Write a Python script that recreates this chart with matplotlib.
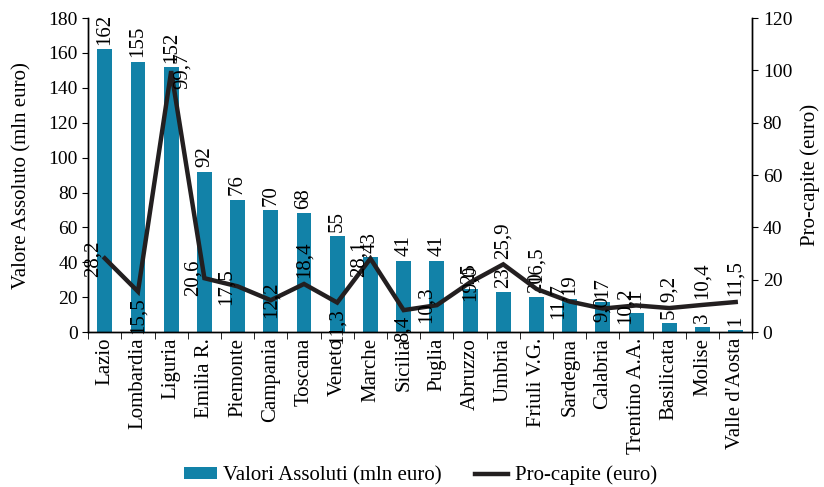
import numpy as np
import matplotlib.pyplot as plt
from matplotlib.ticker import MultipleLocator

plt.rcParams['font.family'] = ['Liberation Serif', 'DejaVu Serif']

regioni = ['Lazio', 'Lombardia', 'Liguria', 'Emilia R.', 'Piemonte', 'Campania',
           'Toscana', 'Veneto', 'Marche', 'Sicilia', 'Puglia', 'Abruzzo', 'Umbria',
           'Friuli V.G.', 'Sardegna', 'Calabria', 'Trentino A.A.', 'Basilicata',
           'Molise', "Valle d'Aosta"]
valori_assoluti = [162, 155, 152, 92, 76, 70, 68, 55, 43, 41, 41, 25, 23, 20, 19, 17,
                   11, 5, 3, 1]
pro_capite = [28.2, 15.5, 99.7, 20.6, 17.5, 12.2, 18.4, 11.3, 28.1, 8.4, 10.3, 19.0,
              25.9, 16.5, 11.7, 9.0, 10.2, 9.2, 10.4, 11.5]
# where each per-capita label sits relative to its point
pos_etichetta = ['l', 'b', 'r', 'l', 'l', 'c', 'a', 'b', 'l', 'b', 'l', 'c', 'a', 'a',
                 'l', 'c', 'l', 'a', 'a', 'a']

blu = '#1282a8'
nero = '#231f20'
fs = 15
fs_tick = 14

fig = plt.figure(figsize=(8.24, 4.87), dpi=100)
ax = fig.add_axes([0.107, 0.318, 0.806, 0.645])
ax2 = ax.twinx()

x = np.arange(len(regioni))
ax.bar(x, valori_assoluti, width=0.45, color=blu, label='Valori Assoluti (mln euro)',
       zorder=2)
for xi, v in zip(x, valori_assoluti):
    ax.annotate(str(v), (xi, v), xytext=(0, 3), textcoords='offset points',
                rotation=90, ha='center', va='bottom', fontsize=fs, zorder=3)

ax2.plot(x, pro_capite, color=nero, lw=3.2, solid_joinstyle='miter',
         label='Pro-capite (euro)', zorder=4)
offs = {'l': ((-8, 0), 'center', 'center'), 'r': ((8, 0), 'center', 'center'),
        'a': ((0, 4), 'center', 'bottom'), 'b': ((0, -4), 'center', 'top'),
        'c': ((0, 0), 'center', 'center')}
for xi, v, p in zip(x, pro_capite, pos_etichetta):
    off, ha, va = offs[p]
    ax2.annotate(f'{v:.1f}'.replace('.', ','), (xi, v), xytext=off,
                 textcoords='offset points', rotation=90, ha=ha, va=va, fontsize=fs,
                 zorder=5)

ax.set_xlim(-0.5, len(regioni) - 0.5)
ax.set_ylim(0, 180)
ax2.set_ylim(0, 120)
ax.yaxis.set_major_locator(MultipleLocator(20))
ax2.yaxis.set_major_locator(MultipleLocator(20))

ax.set_xticks(x)
ax.set_xticklabels(regioni, rotation=90, fontsize=fs)
ax.tick_params(axis='x', length=0, pad=4)
ax.set_xticks(np.arange(-0.5, len(regioni)), minor=True)
ax.tick_params(axis='x', which='minor', length=5, direction='out')
ax.tick_params(axis='y', labelsize=fs_tick, length=4, direction='out')
ax2.tick_params(axis='y', labelsize=fs_tick, length=4, direction='out')

for a in (ax, ax2):
    a.spines['top'].set_visible(False)
    for s in ('left', 'right', 'bottom'):
        a.spines[s].set_linewidth(1.0)

ax.set_ylabel('Valore Assoluto (mln euro)', fontsize=fs, labelpad=12)
ax2.set_ylabel('Pro-capite (euro)', fontsize=fs, labelpad=6)

h1, l1 = ax.get_legend_handles_labels()
h2, l2 = ax2.get_legend_handles_labels()
fig.legend(h1 + h2, l1 + l2, loc='lower center', bbox_to_anchor=(0.51, -0.035), ncol=2,
           frameon=False, fontsize=fs, handlelength=1.6, handleheight=0.5,
           columnspacing=1.6, handletextpad=0.3)

fig.savefig('out.png', dpi=100)
